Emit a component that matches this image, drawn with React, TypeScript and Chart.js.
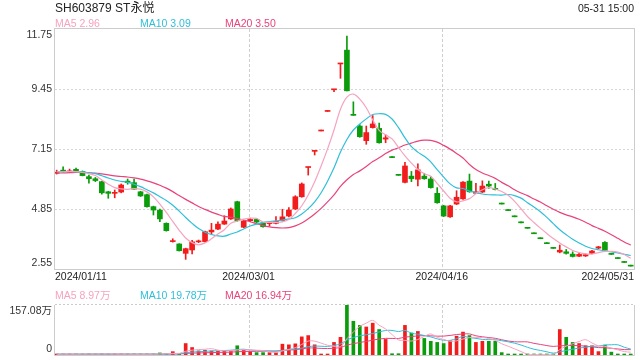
import React, { useEffect, useRef } from 'react';
import { Chart, registerables } from 'chart.js';

Chart.register(...registerables);

const title = 'SH603879 ST永悦';
const timeLabel = '05-31 15:00';
const dateLabels = ['2024/01/11', '2024/03/01', '2024/04/16', '2024/05/31'];
const dateLabelIndex = [0, 29.75, 59.7, 89];
const priceTicks = [2.55, 4.85, 7.15, 9.45, 11.75];
const volumeMax = 157.08;
const volumeTickLabels = ['0', '157.08万'];
const priceLegend = [
  ['MA5', '2.96'],
  ['MA10', '3.09'],
  ['MA20', '3.50'],
];
const volumeLegend = [
  ['MA5', '8.97万'],
  ['MA10', '19.78万'],
  ['MA20', '16.94万'],
];

// closes before 2024/01/11 (only used to start the moving averages)
const prevCloses = [6.12, 6.15, 6.10, 6.18, 6.14, 6.20, 6.17, 6.22, 6.19, 6.24, 6.27, 6.25, 6.30, 6.28, 6.32, 6.29, 6.26, 6.31, 6.28];
const prevVolumes = [2, 2.5, 2, 3, 2, 2.5, 2, 2, 3, 2.5, 2, 2, 2.5, 3, 2, 2.5, 2, 3, 2.5];

const opens = [
  6.22, 6.34, 6.26, 6.37, 6.29, 6.09, 6.01, 5.90, 5.51, 5.45,
  5.50, 5.92, 5.86, 5.51, 5.40, 4.94, 4.81, 4.30, 3.60, 3.51,
  3.15, 3.28, 3.59, 3.60, 3.97, 4.08, 4.27, 4.47, 5.13, 4.15,
  4.40, 4.45, 4.32, 4.29, 4.30, 4.40, 4.58, 4.85, 5.32, 6.44,
  7.06, 7.84, 8.59, 9.42, 10.41, 10.94, 8.48, 8.03, 7.47, 7.97,
  7.94, 7.53, 6.82, 6.14, 5.87, 6.11, 5.99, 6.11, 6.00, 5.45,
  4.97, 4.55, 5.04, 5.24, 5.92, 5.45, 5.50, 5.80, 5.64, 5.04,
  4.79, 4.55, 4.32, 4.11, 3.90, 3.71, 3.52, 3.34, 3.20, 3.21,
  3.12, 3.04, 3.05, 3.15, 3.35, 3.57, 3.11, 2.95, 2.80, 2.66,
];
const highs = [
  6.34, 6.47, 6.38, 6.42, 6.31, 6.15, 6.06, 5.92, 5.53, 5.58,
  5.81, 6.00, 6.00, 5.53, 5.42, 4.96, 4.85, 4.32, 3.71, 3.52,
  3.35, 3.65, 3.66, 4.00, 4.30, 4.36, 4.59, 4.89, 5.15, 4.41,
  4.50, 4.47, 4.34, 4.35, 4.56, 4.84, 4.90, 5.36, 5.85, 6.45,
  7.08, 7.84, 8.59, 9.44, 10.43, 11.48, 8.96, 8.08, 8.03, 8.43,
  8.14, 7.69, 6.82, 6.14, 6.64, 6.29, 6.58, 6.22, 6.09, 5.67,
  4.99, 4.99, 5.55, 5.90, 6.19, 5.83, 5.93, 5.92, 5.83, 5.04,
  4.79, 4.55, 4.32, 4.11, 3.90, 3.71, 3.52, 3.34, 3.47, 3.30,
  3.21, 3.15, 3.13, 3.27, 3.42, 3.60, 3.11, 2.95, 2.80, 2.66,
];
const lows = [
  6.19, 6.27, 6.24, 6.25, 6.12, 5.84, 5.90, 5.42, 5.26, 5.28,
  5.47, 5.80, 5.60, 5.33, 4.92, 4.62, 4.36, 4.00, 3.58, 3.24,
  2.92, 3.13, 3.56, 3.58, 3.89, 4.06, 4.26, 4.45, 4.38, 4.13,
  4.36, 4.33, 4.15, 4.20, 4.28, 4.38, 4.55, 4.83, 5.30, 6.15,
  6.92, 7.84, 8.59, 9.35, 9.86, 9.38, 8.44, 7.60, 7.33, 7.95,
  7.37, 7.39, 6.82, 6.14, 5.85, 5.90, 5.73, 5.99, 5.65, 5.07,
  4.56, 4.53, 5.02, 5.22, 5.49, 5.44, 5.48, 5.64, 5.58, 5.04,
  4.79, 4.55, 4.32, 4.11, 3.90, 3.71, 3.52, 3.34, 3.17, 3.12,
  3.01, 3.02, 3.03, 3.13, 3.33, 3.26, 3.11, 2.95, 2.80, 2.66,
];
const closes = [
  6.25, 6.29, 6.31, 6.27, 6.13, 6.01, 5.94, 5.47, 5.45, 5.48,
  5.77, 5.86, 5.61, 5.35, 4.94, 4.81, 4.47, 4.02, 3.62, 3.25,
  3.33, 3.59, 3.60, 3.98, 4.04, 4.27, 4.39, 4.85, 4.40, 4.39,
  4.45, 4.35, 4.17, 4.33, 4.38, 4.55, 4.81, 5.32, 5.81, 6.45,
  7.08, 7.84, 8.59, 9.44, 10.43, 9.38, 8.44, 7.62, 7.78, 8.11,
  7.39, 7.58, 6.82, 6.14, 6.50, 6.01, 6.35, 6.01, 5.67, 5.09,
  4.58, 4.97, 5.30, 5.88, 5.51, 5.51, 5.73, 5.73, 5.60, 5.04,
  4.79, 4.55, 4.32, 4.11, 3.90, 3.71, 3.52, 3.34, 3.27, 3.15,
  3.03, 3.11, 3.10, 3.24, 3.40, 3.27, 3.11, 2.95, 2.80, 2.66,
];
// volume, in 万
const volumes = [
  2.5, 3, 2, 2.5, 3, 3.5, 2, 3.5, 2.5, 2,
  2.5, 2, 2, 2.5, 3, 3, 6.5, 3, 10.5, 2.5,
  36, 23.5, 13, 15, 12.8, 11.8, 12.8, 12.8, 29, 15,
  10.7, 7.5, 7.5, 7.5, 7.5, 34, 32, 35, 57, 61,
  32, 1.5, 2, 39.5, 55.6, 157.08, 106, 93, 88, 100,
  80, 49, 4, 4, 93, 69, 74, 52, 43, 39.5,
  36, 45, 59, 72, 61, 39.5, 43, 43, 43, 7.5,
  1.5, 1.2, 1, 1, 1, 1, 1, 1, 80, 55.6,
  39.5, 36, 29, 29, 10.7, 31, 9, 1.5, 1.5, 1.5,
];

const UP = '#f21c1c';
const DOWN = '#0b9c0b';
const MA_COLORS = ['#f5a3bf', '#2fbfd9', '#e8437b'];
const MA_PERIODS = [5, 10, 20];
const FONT = '"Liberation Sans", Arial, "Noto Sans CJK SC", sans-serif';

function movingAverage(values: number[], prev: number[], n: number): number[] {
  const all = [...prev, ...values];
  return values.map((_, i) => {
    const end = prev.length + i;
    const start = Math.max(0, end - n + 1);
    let s = 0;
    for (let k = start; k <= end; k++) s += all[k];
    return s / (end - start + 1);
  });
}

const candleColors = closes.map((c, i) => {
  const o = opens[i];
  if (c > o) return UP;
  if (c < o) return DOWN;
  const pc = i === 0 ? prevCloses[prevCloses.length - 1] : closes[i - 1];
  return c >= pc ? UP : DOWN;
});

const X_MIN = -0.26;
const X_MAX = 89.51;

const mainDecor = {
  id: 'mainDecor',
  beforeDatasetsDraw(chart: any) {
    const { ctx, chartArea, scales } = chart;
    const { left, top, right, bottom } = chartArea;
    const x = scales.x;
    const y = scales.y;
    ctx.save();
    ctx.lineWidth = 1;
    ctx.strokeStyle = '#d6d6d6';
    ctx.setLineDash([2, 2]);
    priceTicks.forEach((v, i) => {
      if (i === 0 || i === priceTicks.length - 1) return;
      const py = Math.round(y.getPixelForValue(v)) + 0.5;
      ctx.beginPath();
      ctx.moveTo(left, py);
      ctx.lineTo(right, py);
      ctx.stroke();
    });
    ctx.strokeStyle = '#cfcfcf';
    ctx.setLineDash([3, 2]);
    dateLabelIndex.forEach((v, i) => {
      if (i === 0 || i === dateLabelIndex.length - 1) return;
      const px = Math.round(x.getPixelForValue(v)) + 0.5;
      ctx.beginPath();
      ctx.moveTo(px, top);
      ctx.lineTo(px, bottom);
      ctx.stroke();
    });
    ctx.setLineDash([]);
    ctx.strokeStyle = '#cccccc';
    ctx.strokeRect(left - 0.5, top - 0.5, right - left + 1, bottom - top + 1);
    ctx.restore();
  },
  afterDraw(chart: any) {
    const { ctx, chartArea, scales } = chart;
    const { left, top, right, bottom } = chartArea;
    const x = scales.x;
    const y = scales.y;
    ctx.save();
    ctx.font = '10.5px ' + FONT;
    ctx.fillStyle = '#333';
    ctx.textAlign = 'right';
    ctx.textBaseline = 'middle';
    priceTicks.forEach((v) => {
      let py = y.getPixelForValue(v);
      py = Math.min(Math.max(py, top + 6), bottom - 6);
      ctx.fillText(v.toFixed(2), left - 3, py);
    });
    ctx.fillStyle = '#222';
    dateLabels.forEach((t, i) => {
      let px = x.getPixelForValue(dateLabelIndex[i]);
      if (i === 0) {
        ctx.textAlign = 'left';
        px = left;
      } else if (i === dateLabels.length - 1) {
        ctx.textAlign = 'right';
        px = right;
      } else {
        ctx.textAlign = 'center';
      }
      ctx.fillText(t, px, bottom + 8.5);
    });
    ctx.restore();
  },
};

const volDecor = {
  id: 'volDecor',
  beforeDatasetsDraw(chart: any) {
    const { ctx, chartArea, scales } = chart;
    const { left, top, right, bottom } = chartArea;
    const x = scales.x;
    ctx.save();
    ctx.lineWidth = 1;
    ctx.strokeStyle = '#cfcfcf';
    ctx.setLineDash([3, 2]);
    dateLabelIndex.forEach((v, i) => {
      if (i === 0 || i === dateLabelIndex.length - 1) return;
      const px = Math.round(x.getPixelForValue(v)) + 0.5;
      ctx.beginPath();
      ctx.moveTo(px, top);
      ctx.lineTo(px, bottom);
      ctx.stroke();
    });
    ctx.strokeStyle = '#cccccc';
    ctx.setLineDash([2, 2]);
    ctx.beginPath();
    ctx.moveTo(left, top - 0.5);
    ctx.lineTo(right, top - 0.5);
    ctx.stroke();
    ctx.setLineDash([]);
    ctx.beginPath();
    ctx.moveTo(left - 0.5, top);
    ctx.lineTo(left - 0.5, bottom + 0.5);
    ctx.lineTo(right + 0.5, bottom + 0.5);
    ctx.lineTo(right + 0.5, top);
    ctx.stroke();
    ctx.restore();
  },
  afterDraw(chart: any) {
    const { ctx, chartArea } = chart;
    const { left, top, bottom } = chartArea;
    ctx.save();
    ctx.font = '10.5px ' + FONT;
    ctx.fillStyle = '#333';
    ctx.textAlign = 'right';
    ctx.textBaseline = 'middle';
    ctx.fillText(volumeTickLabels[1], left - 3, top + 6);
    ctx.fillText(volumeTickLabels[0], left - 3, bottom - 6);
    ctx.restore();
  },
};

export default function App() {
  const mainRef = useRef<HTMLCanvasElement>(null);
  const volRef = useRef<HTMLCanvasElement>(null);

  useEffect(() => {
    const priceMAs = MA_PERIODS.map((n) => movingAverage(closes, prevCloses, n));
    const volMAs = MA_PERIODS.map((n) => movingAverage(volumes, prevVolumes, n));

    const main = new Chart(mainRef.current as HTMLCanvasElement, {
      type: 'bar',
      data: {
        datasets: [
          ...priceMAs.map((ma, k) => ({
            type: 'line' as const,
            data: ma.map((v, i) => ({ x: i, y: v })),
            borderColor: MA_COLORS[k],
            borderWidth: 1.2,
            pointRadius: 0,
            tension: 0.35,
            order: 0,
          })),
          {
            type: 'bar' as const,
            data: opens.map((o, i) => ({ x: i, y: [o, closes[i]] })),
            backgroundColor: candleColors,
            barThickness: 5,
            minBarLength: 1,
            grouped: false,
            order: 1,
          } as any,
          {
            type: 'bar' as const,
            data: lows.map((l, i) => ({ x: i, y: [l, highs[i]] })),
            backgroundColor: candleColors,
            barThickness: 1,
            minBarLength: 1,
            grouped: false,
            order: 2,
          } as any,
        ],
      },
      options: {
        responsive: false,
        animation: false,
        events: [],
        layout: { padding: { left: 55, right: 6, top: 29, bottom: 21 }, autoPadding: false },
        plugins: { legend: { display: false }, tooltip: { enabled: false } },
        scales: {
          x: { type: 'linear', min: X_MIN, max: X_MAX, offset: false, display: false },
          y: { type: 'linear', min: priceTicks[0], max: priceTicks[priceTicks.length - 1], display: false },
        },
      } as any,
      plugins: [mainDecor],
    });

    const vol = new Chart(volRef.current as HTMLCanvasElement, {
      type: 'bar',
      data: {
        datasets: [
          ...volMAs.map((ma, k) => ({
            type: 'line' as const,
            data: ma.map((v, i) => ({ x: i, y: v })),
            borderColor: MA_COLORS[k],
            borderWidth: 1,
            pointRadius: 0,
            tension: 0.35,
            order: 0,
          })),
          {
            type: 'bar' as const,
            data: volumes.map((v, i) => ({ x: i, y: v })),
            backgroundColor: candleColors,
            barThickness: 3,
            minBarLength: 1,
            grouped: false,
            order: 1,
          } as any,
        ],
      },
      options: {
        responsive: false,
        animation: false,
        events: [],
        layout: { padding: { left: 55, right: 6, top: 15, bottom: 5 }, autoPadding: false },
        plugins: { legend: { display: false }, tooltip: { enabled: false } },
        scales: {
          x: { type: 'linear', min: X_MIN, max: X_MAX, offset: false, display: false },
          y: { type: 'linear', min: 0, max: volumeMax, display: false },
        },
      } as any,
      plugins: [volDecor],
    });

    return () => {
      main.destroy();
      vol.destroy();
    };
  }, []);

  const legendRow = (items: string[][], top: number) =>
    items.map((it, k) => (
      <span
        key={k}
        style={{
          position: 'absolute',
          left: [55, 140, 225][k],
          top,
          fontSize: '10.5px',
          lineHeight: '13px',
          color: MA_COLORS[k],
          whiteSpace: 'nowrap',
        }}
      >
        {it[0] + ' ' + it[1]}
      </span>
    ));

  return (
    <div
      style={{
        position: 'fixed',
        left: 0,
        top: 0,
        width: 640,
        height: 360,
        background: '#fff',
        fontFamily: FONT,
        overflow: 'hidden',
      }}
    >
      <canvas ref={mainRef} width={640} height={290} style={{ position: 'absolute', left: 0, top: 0 }} />
      <canvas ref={volRef} width={640} height={70} style={{ position: 'absolute', left: 0, top: 290 }} />
      <span
        style={{
          position: 'absolute',
          left: 55,
          top: 1,
          fontSize: '12px',
          lineHeight: '15px',
          color: '#222',
          whiteSpace: 'nowrap',
        }}
      >
        {title}
      </span>
      <span
        style={{
          position: 'absolute',
          right: 6,
          top: 2,
          fontSize: '10.5px',
          lineHeight: '13px',
          color: '#222',
          whiteSpace: 'nowrap',
        }}
      >
        {timeLabel}
      </span>
      {legendRow(priceLegend, 17)}
      {legendRow(volumeLegend, 289)}
    </div>
  );
}
